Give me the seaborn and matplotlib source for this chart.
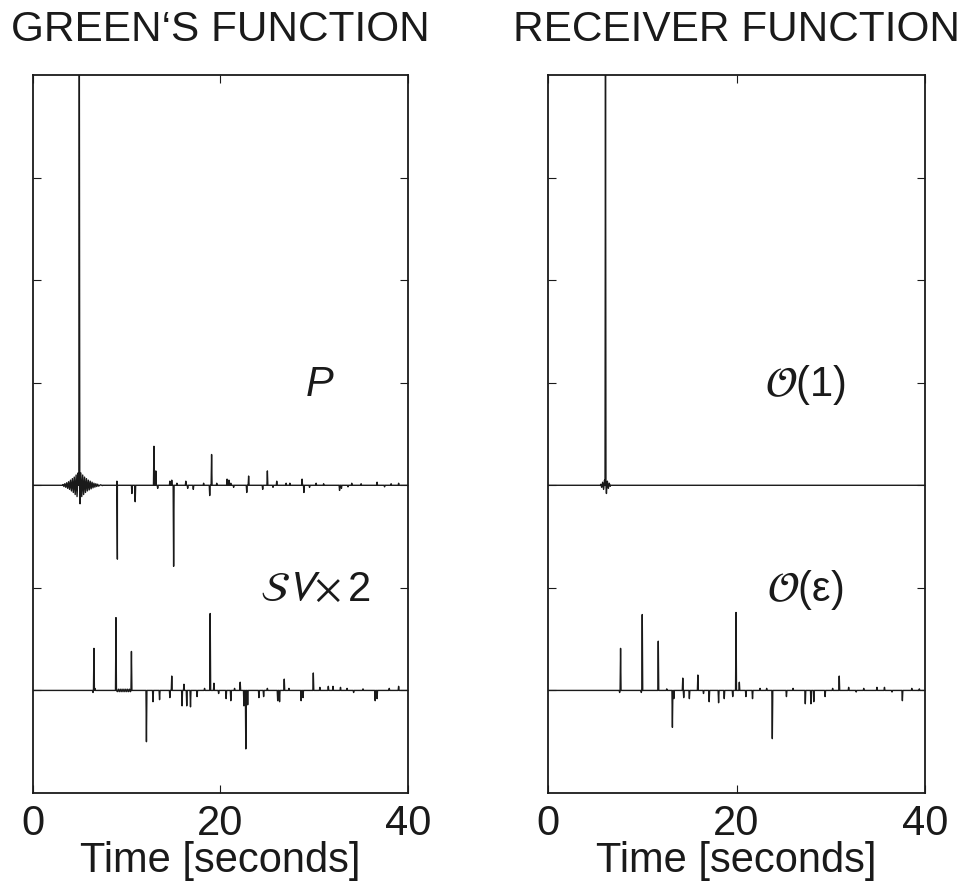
"""
Green's function vs receiver function traces, two panels side by side.
"""

import seaborn as sns
import matplotlib.pyplot as plt
import pandas as pd

# ---- data (time in s, amplitude in tick units) ----
T_MAX = 40.0

# Green's function, P component (baseline at 3)
gp_t = [4.94, 8.95, 9.0, 10.55, 10.9, 12.9, 13.1, 13.3, 14.6, 14.8, 15.0, 15.35,
        16.3, 16.5, 17.1, 18.2, 18.85, 19.05, 19.6, 20.7, 20.9, 21.1, 21.4,
        22.8, 23.0, 24.5, 25.0, 25.6, 26.0, 27.0, 27.4, 28.7, 28.9, 29.5,
        30.2, 31.0, 32.7, 32.9, 33.6, 34.0, 35.0, 36.7, 37.5, 38.2, 39.0]
gp_a = [4.5, 0.04, -0.72, -0.08, -0.16, 0.38, 0.14, -0.03, 0.04, 0.05, -0.79, 0.02,
        0.04, -0.03, -0.04, 0.02, -0.1, 0.30, 0.02, 0.06, 0.05, 0.02, -0.02,
        -0.07, 0.09, -0.04, 0.14, -0.02, 0.04, 0.02, 0.02, 0.06, -0.07, -0.02,
        0.02, 0.015, -0.05, -0.03, -0.015, 0.02, 0.015, 0.03, -0.015, 0.015, 0.02]
# ringing around the direct P arrival
gp_ring_t = [3.2, 3.3, 3.4, 3.5, 3.6, 3.7, 3.8, 3.9, 4.0, 4.1, 4.2, 4.3, 4.4, 4.5,
             4.6, 4.7, 4.8, 5.02, 5.1, 5.2, 5.3, 5.4, 5.5, 5.6, 5.7, 5.8, 5.9,
             6.0, 6.1, 6.2, 6.3, 6.4, 6.5, 6.6, 6.7, 6.8, 6.9, 7.0, 7.2, 7.4]
gp_ring_a = [0.008, -0.012, 0.016, -0.02, 0.025, -0.03, 0.035, -0.04, 0.05, -0.055,
             0.065, -0.07, 0.08, -0.09, 0.1, -0.11, 0.12, -0.18, 0.12, -0.11, 0.1,
             -0.09, 0.08, -0.07, 0.065, -0.055, 0.05, -0.045, 0.04, -0.035, 0.03,
             -0.025, 0.02, -0.018, 0.015, -0.012, 0.01, -0.008, 0.005, -0.003]

# Green's function, SV component x 2 (baseline at 1)
gs_t = [6.4, 6.5, 6.6, 8.85, 10.5, 12.1, 12.8, 13.5, 14.6, 14.8, 15.9, 16.1, 16.4,
        16.8, 17.5, 18.3, 18.9, 19.3, 19.8, 20.6, 21.1, 21.5, 22.1, 22.5, 22.7,
        22.9, 24.1, 24.6, 25.0, 26.1, 26.3, 26.8, 27.3, 28.6, 28.8, 29.9, 30.6,
        31.5, 32.0, 32.8, 33.5, 34.2, 35.2, 36.5, 36.7, 38.0, 39.0]
gs_a = [-0.02, 0.41, 0.02, 0.71, 0.38, -0.50, -0.11, -0.09, -0.07, 0.14, -0.15, 0.06,
        -0.15, -0.16, -0.06, 0.02, 0.75, 0.07, -0.03, -0.08, -0.1, 0.02, 0.08, -0.15,
        -0.57, -0.14, -0.07, -0.06, 0.02, -0.1, -0.11, 0.11, 0.02, -0.1, -0.07, 0.17,
        0.03, 0.04, 0.04, 0.03, 0.02, -0.02, 0.015, -0.1, -0.08, 0.02, 0.04]
gs_ring_t = [8.8, 9.0, 9.1, 9.2, 9.3, 9.4, 9.5, 9.6, 9.7, 9.8, 9.9, 10.0,
             10.1, 10.2, 10.3, 10.4]
gs_ring_a = [0.012, -0.012, 0.012, -0.012, 0.012, -0.012, 0.012, -0.012, 0.012,
             -0.012, 0.012, -0.012, 0.012, -0.012, 0.012, -0.012]

# Receiver function, O(1) part (baseline at 3)
r1_t = [6.1, 6.2]
r1_a = [4.5, -0.08]
r1_ring_t = [5.6, 5.7, 5.8, 5.9, 6.0, 6.3, 6.4, 6.5, 6.6]
r1_ring_a = [0.01, -0.02, 0.03, -0.04, 0.05, 0.04, -0.03, 0.02, -0.01]

# Receiver function, O(eps) part (baseline at 1)
re_t = [7.6, 7.7, 9.9, 10.0, 11.7, 12.6, 13.2, 13.35, 14.3, 14.4, 15.0, 15.9, 16.5,
        17.1, 18.1, 18.7, 19.6, 19.95, 20.3, 21.0, 21.7, 22.5, 23.2, 23.8, 25.3,
        26.0, 27.3, 27.9, 28.2, 29.4, 30.2, 30.9, 31.9, 32.7, 33.5, 34.9, 35.7,
        36.5, 37.6, 38.6, 39.4]
re_a = [-0.02, 0.41, -0.02, 0.74, 0.48, 0.015, -0.36, -0.08, 0.12, -0.07, -0.08, 0.15,
        -0.03, -0.11, -0.12, -0.08, -0.06, 0.76, 0.08, -0.06, -0.08, 0.02, 0.02,
        -0.47, -0.06, 0.02, -0.13, -0.13, -0.11, -0.06, 0.02, 0.14, 0.03, -0.015,
        0.02, 0.03, 0.03, -0.015, -0.1, 0.02, 0.015]

x_ticks = [0, 20, 40]
y_ticks = [1, 2, 3, 4, 5, 6]


def build_trace(spike_t, spike_a, offset, ring_t=(), ring_a=(), w=0.05):
    """Turn spike lists into a stick-style polyline around a baseline."""
    pts = [(0.0, 0.0), (T_MAX, 0.0)]
    for t, a in zip(spike_t, spike_a):
        pts += [(t - w, 0.0), (t, a), (t + w, 0.0)]
    if len(ring_t):
        # anchor the ringing back to the baseline at both ends
        pts += [(ring_t[0] - w, 0.0), (ring_t[-1] + w, 0.0)]
        pts += list(zip(ring_t, ring_a))
    pts.sort()
    df = pd.DataFrame(pts, columns=['time', 'amp'])
    df['y'] = df['amp'] + offset
    return df


sns.set_theme(style='white')
plt.rcParams['font.family'] = ['Liberation Sans', 'DejaVu Sans']
plt.rcParams['mathtext.fontset'] = 'stixsans'
plt.rcParams['text.color'] = 'k'
plt.rcParams['xtick.color'] = 'k'
plt.rcParams['ytick.color'] = 'k'
plt.rcParams['axes.labelcolor'] = 'k'

fig = plt.figure(figsize=(9.65, 8.84), dpi=100)
ax_l = fig.add_axes([33 / 965, 91 / 884, 375 / 965, 718 / 884])
ax_r = fig.add_axes([548 / 965, 91 / 884, 377 / 965, 718 / 884])

traces_l = [build_trace(gp_t, gp_a, 3, gp_ring_t, gp_ring_a),
            build_trace(gs_t, gs_a, 1, gs_ring_t, gs_ring_a)]
traces_r = [build_trace(r1_t, r1_a, 3, r1_ring_t, r1_ring_a),
            build_trace(re_t, re_a, 1)]

for ax, traces in ((ax_l, traces_l), (ax_r, traces_r)):
    for df in traces:
        sns.lineplot(data=df, x='time', y='y', ax=ax, color='k', linewidth=1.0,
                     estimator=None, sort=False)
    ax.set_xlim(0, T_MAX)
    ax.set_ylim(0, 7)
    ax.set_xticks(x_ticks)
    ax.set_yticks(y_ticks)
    ax.set_yticklabels([])
    ax.tick_params(axis='both', direction='in', length=6, width=0.8, color='k',
                   top=True, right=True, bottom=True, left=True)
    ax.tick_params(axis='x', labelsize=30, pad=8)
    ax.set_xlabel('Time [seconds]', fontsize=30, labelpad=-2)
    ax.set_ylabel('')
    for sp in ax.spines.values():
        sp.set_color('k')
        sp.set_linewidth(1.3)

ax_l.text(0.5, 1.063, 'GREEN‘S FUNCTION', transform=ax_l.transAxes,
          ha='center', va='center', fontsize=30.5)
ax_r.text(0.5, 1.063, 'RECEIVER FUNCTION', transform=ax_r.transAxes,
          ha='center', va='center', fontsize=30.5)

ax_l.text(30.6, 3.98, 'P', style='italic', ha='center', va='center', fontsize=30)
ax_l.text(30.1, 1.98, r'$\mathcal{S}\mathit{V}\!\times$2', ha='center', va='center',
          fontsize=30)
ax_r.text(27.3, 3.98, r'$\mathcal{O}$(1)', ha='center', va='center', fontsize=30)
ax_r.text(27.3, 1.98, r'$\mathcal{O}$(ε)', ha='center', va='center', fontsize=30)

fig.savefig('out.png', dpi=100)
